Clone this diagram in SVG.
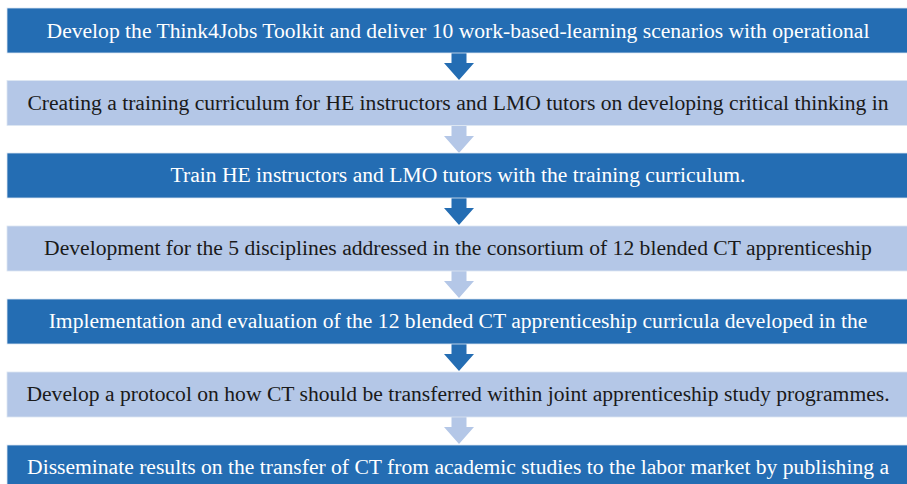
<svg xmlns="http://www.w3.org/2000/svg" width="907" height="484" viewBox="0 0 907 484">
  <style>
    .dark { fill: #246DB3; stroke: #DCE6F2; stroke-width: 0.8; }
    .light { fill: #B4C7E7; stroke: #DCE6F2; stroke-width: 0.8; }
    .t { font-family: "Liberation Serif", "Times New Roman", serif; font-size: 21.6px; text-anchor: middle; }
    .tw { fill: #FFFFFF; }
    .tb { fill: #1A1A1A; }
    .ad { fill: #246DB3; }
    .al { fill: #B4C7E7; }
  </style>
  <defs>
    <!-- block arrow: shaft from the bottom of one bar down to the top of the next -->
    <path id="arrow" d="M-7.5,0 H7.5 V10 H15 L0,27 L-15,10 H-7.5 Z"/>
  </defs>
  <rect width="907" height="484" fill="#FFFFFF"/>

  <g id="connectors">
    <use href="#arrow" class="ad" x="459" y="53"/>
    <use href="#arrow" class="al" x="459" y="126"/>
    <use href="#arrow" class="ad" x="459" y="198"/>
    <use href="#arrow" class="al" x="459" y="271"/>
    <use href="#arrow" class="ad" x="459" y="344"/>
    <use href="#arrow" class="al" x="459" y="417"/>
  </g>

  <g id="step1">
    <rect class="dark" x="7" y="8" width="902" height="45"/>
    <text class="t tw" x="458" y="37.5">Develop the Think4Jobs Toolkit and deliver 10 work-based-learning scenarios with operational</text>
  </g>
  <g id="step2">
    <rect class="light" x="7" y="80.5" width="902" height="45"/>
    <text class="t tb" x="458" y="109.5">Creating a training curriculum for HE instructors and LMO tutors on developing critical thinking in</text>
  </g>
  <g id="step3">
    <rect class="dark" x="7" y="153" width="902" height="45"/>
    <text class="t tw" x="458" y="182">Train HE instructors and LMO tutors with the training curriculum.</text>
  </g>
  <g id="step4">
    <rect class="light" x="7" y="226" width="902" height="45"/>
    <text class="t tb" x="458" y="255">Development for the 5 disciplines addressed in the consortium of 12 blended CT apprenticeship</text>
  </g>
  <g id="step5">
    <rect class="dark" x="7" y="299" width="902" height="45"/>
    <text class="t tw" x="458" y="328">Implementation and evaluation of the 12 blended CT apprenticeship curricula developed in the</text>
  </g>
  <g id="step6">
    <rect class="light" x="7" y="372" width="902" height="45"/>
    <text class="t tb" x="458" y="401">Develop a protocol on how CT should be transferred within joint apprenticeship study programmes.</text>
  </g>
  <g id="step7">
    <rect class="dark" x="7" y="445" width="902" height="45"/>
    <text class="t tw" x="458" y="473.5">Disseminate results on the transfer of CT from academic studies to the labor market by publishing a</text>
  </g>
</svg>
